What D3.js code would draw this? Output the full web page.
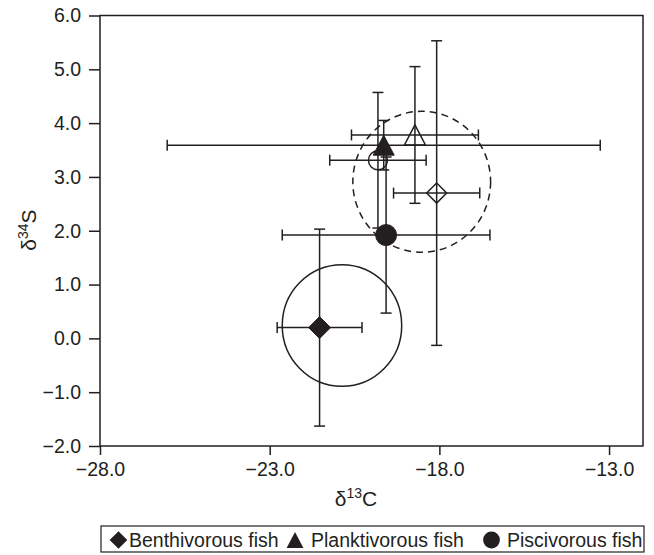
<!doctype html>
<html>
<head>
<meta charset="utf-8">
<title>d34S vs d13C</title>
<script src="https://d3js.org/d3.v7.min.js"></script>
<style>
  body { margin: 0; background: #fff; }
  svg { font-family: "Liberation Sans", Arial, sans-serif; }
</style>
</head>
<body>
<div id="chart"></div>
<script>
// group means with error bars (delta13C, delta34S)
const groups = ['Benthivorous fish', 'Planktivorous fish', 'Piscivorous fish',
                'open diamond', 'open triangle', 'open circle'];
const shapes = ['diamond', 'triangle', 'circle', 'diamond', 'triangle', 'circle'];
const filled = [true, true, true, false, false, false];
const xMean = [-21.53, -19.64, -19.57, -18.08, -18.72, -19.81];
const xErr  = [1.25, 6.38, 3.06, 1.27, 1.87, 1.42];
const yMean = [0.20, 3.59, 1.92, 2.70, 3.78, 3.31];
const yErr  = [1.83, 0.46, 1.45, 2.83, 1.27, 1.26];

// group ellipses (centre, radii in data units)
const ringCx = [-20.87, -18.52];
const ringCy = [0.24, 2.91];
const ringRx = [1.76, 2.03];
const ringRy = [1.13, 1.31];
const ringDashed = [false, true];

const xTicks = [-28, -23, -18, -13];
const yTicks = [-2, -1, 0, 1, 2, 3, 4, 5, 6];
const legendItems = [0, 1, 2];

const W = 654, H = 555;
const margin = { top: 15.5, right: 11, bottom: 109, left: 100 };
const width = W - margin.left - margin.right;
const height = H - margin.top - margin.bottom;
const ink = '#231f20';

const svg = d3.select('#chart').append('svg')
  .attr('width', W).attr('height', H);

const g = svg.append('g')
  .attr('transform', 'translate(' + margin.left + ',' + margin.top + ')');

const x = d3.scaleLinear().domain([-28, -12]).range([0, width]);
const y = d3.scaleLinear().domain([-2, 6]).range([height, 0]);
const fmt = d3.format('.1f');

// axes
const xAxis = g.append('g')
  .attr('transform', 'translate(0,' + height + ')')
  .call(d3.axisBottom(x).tickValues(xTicks).tickFormat(fmt).tickSize(9).tickPadding(7));
const yAxis = g.append('g')
  .call(d3.axisLeft(y).tickValues(yTicks).tickFormat(fmt).tickSize(11).tickPadding(8));
[xAxis, yAxis].forEach(a => {
  a.select('.domain').remove();
  a.selectAll('line').attr('stroke', ink).attr('stroke-width', 1.5);
  a.selectAll('text').attr('fill', ink).style('font-size', '19.5px');
});

// frame
g.append('rect')
  .attr('width', width).attr('height', height)
  .attr('fill', 'none').attr('stroke', ink).attr('stroke-width', 1.5);

// axis titles
const xt = svg.append('text')
  .attr('x', 356).attr('y', 506)
  .attr('text-anchor', 'middle').attr('fill', ink).style('font-size', '21px');
xt.append('tspan').text('δ');
xt.append('tspan').attr('dy', -8).style('font-size', '14px').text('13');
xt.append('tspan').attr('dy', 8).text('C');

const yt = svg.append('text')
  .attr('transform', 'translate(36,230) rotate(-90)')
  .attr('text-anchor', 'middle').attr('fill', ink).style('font-size', '21px');
yt.append('tspan').text('δ');
yt.append('tspan').attr('dy', -8).style('font-size', '14px').text('34');
yt.append('tspan').attr('dy', 8).text('S');

// ellipses
const plot = g.append('g');
ringCx.forEach((cx, i) => {
  plot.append('ellipse')
    .attr('cx', x(cx)).attr('cy', y(ringCy[i]))
    .attr('rx', x(cx + ringRx[i]) - x(cx))
    .attr('ry', y(ringCy[i] - ringRy[i]) - y(ringCy[i]))
    .attr('fill', 'none').attr('stroke', ink).attr('stroke-width', 1.5)
    .attr('stroke-dasharray', ringDashed[i] ? '7,5' : null);
});

// error bars
const cap = 5.5;
groups.forEach((name, i) => {
  const cx = x(xMean[i]), cy = y(yMean[i]);
  const x0 = x(xMean[i] - xErr[i]), x1 = x(xMean[i] + xErr[i]);
  const y0 = y(yMean[i] - yErr[i]), y1 = y(yMean[i] + yErr[i]);
  const eb = plot.append('g').attr('stroke', ink).attr('stroke-width', 1.5);
  eb.append('line').attr('x1', x0).attr('x2', x1).attr('y1', cy).attr('y2', cy);
  eb.append('line').attr('x1', x0).attr('x2', x0).attr('y1', cy - cap).attr('y2', cy + cap);
  eb.append('line').attr('x1', x1).attr('x2', x1).attr('y1', cy - cap).attr('y2', cy + cap);
  eb.append('line').attr('x1', cx).attr('x2', cx).attr('y1', y0).attr('y2', y1);
  eb.append('line').attr('x1', cx - cap).attr('x2', cx + cap).attr('y1', y0).attr('y2', y0);
  eb.append('line').attr('x1', cx - cap).attr('x2', cx + cap).attr('y1', y1).attr('y2', y1);
});

function markerPath(shape, big) {
  if (shape === 'diamond') {
    const r = big ? 11 : 10;
    return 'M0,' + (-r) + 'L' + r + ',0L0,' + r + 'L' + (-r) + ',0Z';
  }
  if (shape === 'triangle') {
    return 'M0,-10L10.5,10L-10.5,10Z';
  }
  const r = big ? 10.5 : 9.5;
  return d3.arc()({ innerRadius: 0, outerRadius: r, startAngle: 0, endAngle: 2 * Math.PI });
}

// open markers first, filled on top
const order = [3, 4, 5, 0, 1, 2];
order.forEach(i => {
  plot.append('path')
    .attr('d', markerPath(shapes[i], filled[i]))
    .attr('transform', 'translate(' + x(xMean[i]) + ',' + y(yMean[i]) + ')')
    .attr('fill', filled[i] ? ink : 'none')
    .attr('stroke', ink).attr('stroke-width', filled[i] ? 1 : 1.5);
});

// legend
const lg = svg.append('g');
lg.append('rect')
  .attr('x', 101).attr('y', 526).attr('width', 543).attr('height', 26)
  .attr('fill', '#fff').attr('stroke', ink).attr('stroke-width', 1.2);
const legendX = [118.5, 295, 491.5];
const legendTextDx = [10.5, 16, 15.5];
legendItems.forEach((i, k) => {
  lg.append('path')
    .attr('d', markerPath(shapes[i], true))
    .attr('transform', 'translate(' + legendX[k] + ',540) scale(0.8)')
    .attr('fill', ink);
  lg.append('text')
    .attr('x', legendX[k] + legendTextDx[k]).attr('y', 547)
    .attr('fill', ink).style('font-size', '19.5px')
    .text(groups[i]);
});
</script>
</body>
</html>
